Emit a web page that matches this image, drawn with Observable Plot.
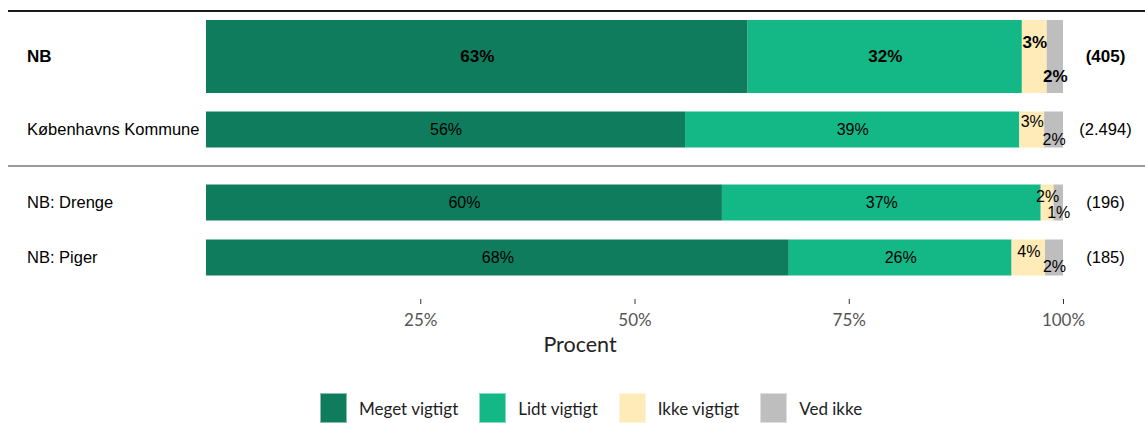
<!DOCTYPE html>
<html>
<head>
<meta charset="utf-8">
<script src="https://cdn.jsdelivr.net/npm/d3@7"></script>
<script src="https://cdn.jsdelivr.net/npm/@observablehq/plot@0.6"></script>
<style>
html, body { margin: 0; padding: 0; background: #fff; overflow: hidden; }
#wrap { position: relative; width: 1145px; height: 423px; overflow: hidden; }
#topline { position: absolute; left: 8px; right: 0; top: 10px; height: 2px; background: #1a1a1a; }
#sep { position: absolute; left: 8px; right: 0; top: 165px; height: 1.5px; background: #9a9a9a; }
#p1 { position: absolute; left: 0; top: 0; }
#p2 { position: absolute; left: 0; top: 166px; }
#legend { position: absolute; top: 393px; left: 320px; display: flex; font-family: Lato, sans-serif; font-size: 17px; color: #222; }
#legend .item { display: flex; align-items: flex-start; }
#legend .sw { width: 27px; height: 30px; box-sizing: border-box; border: 1px solid rgba(255,255,255,0.5); }
#legend .lab { margin-left: 12px; margin-right: 21px; margin-top: 6px; line-height: 20px; white-space: nowrap; }
</style>
</head>
<body>
<div id="wrap">
  <div id="p1"></div>
  <div id="topline"></div>
  <div id="sep"></div>
  <div id="p2"></div>
  <div id="legend"></div>
</div>
<script>
// ---- data ----
const rows = ["NB", "Københavns Kommune", "NB: Drenge", "NB: Piger"];
const counts = ["(405)", "(2.494)", "(196)", "(185)"];
const categories = ["Meget vigtigt", "Lidt vigtigt", "Ikke vigtigt", "Ved ikke"];
const megetVigtigt = [63.2, 55.9, 60.2, 68.0];
const lidtVigtigt  = [32.0, 39.0, 37.2, 26.0];
const ikkeVigtigt  = [2.9, 2.9, 1.5, 3.9];
const vedIkke      = [1.9, 2.2, 1.1, 2.1];
const xTicks = [25, 50, 75, 100];
const axisTitle = "Procent";
const colors = ["#0f7d5d", "#14b786", "#feebb7", "#bebebe"];

// ---- derived table ----
const series = [megetVigtigt, lidtVigtigt, ikkeVigtigt, vedIkke];
const table = [];
rows.forEach((row, i) => {
  let acc = 0;
  series.forEach((vals, j) => {
    const v = vals[i];
    table.push({row, cat: categories[j], ci: j, v, x1: acc, x2: acc + v, mid: acc + v / 2, label: Math.round(v) + "%"});
    acc += v;
  });
});
const nTable = rows.map((row, i) => ({row, n: counts[i]}));

const FONT = "Liberation Sans, Arial, sans-serif";
const colorScale = {domain: categories, range: colors};

function rowMarks(row, o) {
  const d = table.filter(t => t.row === row);
  const weight = o.bold ? "bold" : "normal";
  return [
    Plot.barX(d, {x1: "x1", x2: "x2", y: "row", fill: "cat", insetTop: o.inset, insetBottom: o.inset}),
    Plot.text(d.filter(t => t.ci < 2), {x: "mid", y: "row", text: "label", fontFamily: FONT, fontSize: o.fs, fontWeight: weight, fill: "#000"}),
    Plot.text(d.filter(t => t.ci === 2), {x: "mid", y: "row", text: "label", dy: o.dyA, fontFamily: FONT, fontSize: o.fs, fontWeight: weight, fill: "#000"}),
    Plot.text(d.filter(t => t.ci === 3), {x: "mid", y: "row", text: "label", dy: o.dyB, fontFamily: FONT, fontSize: o.fs, fontWeight: weight, fill: "#000"}),
    Plot.text([row], {y: r => r, frameAnchor: "left", dx: -179.5, textAnchor: "start", fontFamily: FONT, fontSize: o.fsLab, fontWeight: weight, fill: "#000"}),
    Plot.text(nTable.filter(t => t.row === row), {y: "row", text: "n", frameAnchor: "right", dx: 42, textAnchor: "middle", fontFamily: FONT, fontSize: o.fsLab, fontWeight: weight, fill: "#000"})
  ];
}

const p1 = Plot.plot({
  width: 1145, height: 166,
  marginLeft: 206, marginRight: 82, marginTop: 0, marginBottom: 0,
  x: {domain: [0, 100], axis: null},
  y: {domain: rows.slice(0, 2), range: [19.5, 165.5], padding: 0, axis: null},
  color: colorScale,
  marks: [
    ...rowMarks(rows[0], {bold: true, inset: 0, fs: 17, fsLab: 17, dyA: -14, dyB: 20}),
    ...rowMarks(rows[1], {bold: false, inset: 18.5, fs: 16, fsLab: 16.5, dyA: -8, dyB: 10})
  ]
});
document.getElementById("p1").appendChild(p1);

const p2 = Plot.plot({
  width: 1145, height: 200,
  marginLeft: 206, marginRight: 82, marginTop: 0, marginBottom: 67,
  x: {domain: [0, 100]},
  y: {domain: rows.slice(2, 4), range: [9.2, 119.2], padding: 0, axis: null},
  color: colorScale,
  marks: [
    ...rowMarks(rows[2], {bold: false, inset: 9.5, fs: 16, fsLab: 16.5, dyA: -6, dyB: 10}),
    ...rowMarks(rows[3], {bold: false, inset: 9.5, fs: 16, fsLab: 16.5, dyA: -6, dyB: 9}),
    Plot.axisX({ticks: xTicks, tickFormat: d => d + "%", tickSize: 5, tickPadding: 9, label: null,
      stroke: "#333", fill: "#555", fontFamily: "Lato, sans-serif", fontSize: 17}),
    Plot.text([axisTitle], {frameAnchor: "bottom", dy: 52, dx: -55, fontFamily: "Lato, sans-serif", fontSize: 21.5, fill: "#222"})
  ]
});
document.getElementById("p2").appendChild(p2);

// ---- legend ----
const legend = document.getElementById("legend");
categories.forEach((c, i) => {
  const item = document.createElement("div");
  item.className = "item";
  const sw = document.createElement("div");
  sw.className = "sw";
  sw.style.background = colors[i];
  const lab = document.createElement("div");
  lab.className = "lab";
  lab.textContent = c;
  item.appendChild(sw);
  item.appendChild(lab);
  legend.appendChild(item);
});
</script>
</body>
</html>
